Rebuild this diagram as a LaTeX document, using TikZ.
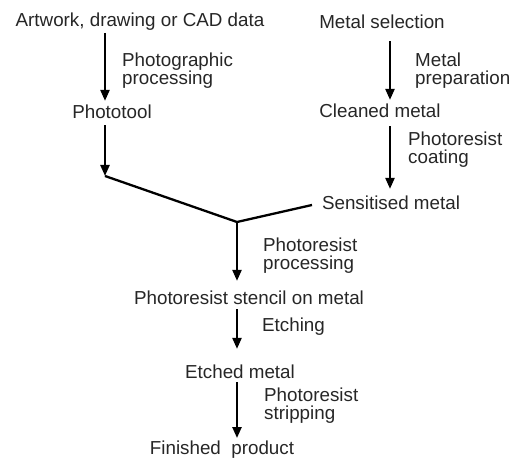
\documentclass[tikz,border=0pt]{standalone}
\usepackage{fontspec}
\setmainfont{Liberation Sans}
\usetikzlibrary{arrows.meta}
\begin{document}
\begin{tikzpicture}[x=1pt,y=-1pt,
  txt/.style={inner sep=0pt,font=\fontsize{18.8}{18}\selectfont,text=black!85},
  lbl/.style={txt,anchor=west,align=left},
  arr/.style={line width=2.3pt,-{Triangle[width=9pt,length=11pt]}},
  ln/.style={line width=2.3pt}]
\useasboundingbox (0,0) rectangle (523,462);
% nodes
\node[txt] (art) at (140,22) {Artwork, drawing or CAD data};
\node[txt] (photo) at (112,112) {Phototool};
\node[txt] (msel) at (382,22) {Metal selection};
\node[txt] (clean) at (380,111) {Cleaned metal};
\node[txt] (sens) at (391,203) {Sensitised metal};
\node[txt] (stencil) at (249,298) {Photoresist stencil on metal};
\node[txt] (etched) at (240,372) {Etched metal};
\node[txt] (fin) at (222,450) {Finished\ \ product};
% labels
\node[lbl] (l1) at (122,71) {Photographic\\processing};
\node[lbl] (l2) at (415,71) {Metal\\preparation};
\node[lbl] (l3) at (408,150) {Photoresist\\coating};
\node[lbl] (l4) at (263,256) {Photoresist\\processing};
\node[lbl] (l5) at (262,327) {Etching};
\node[lbl] (l6) at (264,406) {Photoresist\\stripping};
% junction coordinates
\coordinate (c1) at (105,176);
\coordinate (j) at (237,222);
\coordinate (s1) at (312,205);
\coordinate (cs) at ([xshift=10pt]clean.south);
\coordinate (es) at ([xshift=-3pt]etched.south);
% connectors
\draw[arr,shorten <=2pt,shorten >=4pt] ([xshift=-35pt]art.south) -- ([xshift=-7pt]photo.north);
\draw[arr,shorten <=12pt,shorten >=4pt] ([xshift=8pt]msel.south) -- ([xshift=10pt]clean.north);
\draw[arr,shorten <=6pt] ([xshift=-7pt]photo.south) -- (c1);
\draw[arr,shorten <=8pt,shorten >=7pt] (cs) -- (cs |- sens.north);
\draw[ln] (c1) -- (j) -- (s1);
\draw[arr,shorten >=10pt] (j) -- (j |- stencil.north);
\draw[arr,shorten <=4pt,shorten >=16pt] ([xshift=-12pt]stencil.south) -- ([xshift=-3pt]etched.north);
\draw[arr,shorten <=3pt,shorten >=3pt] (es) -- (es |- fin.north);
\end{tikzpicture}
\end{document}
